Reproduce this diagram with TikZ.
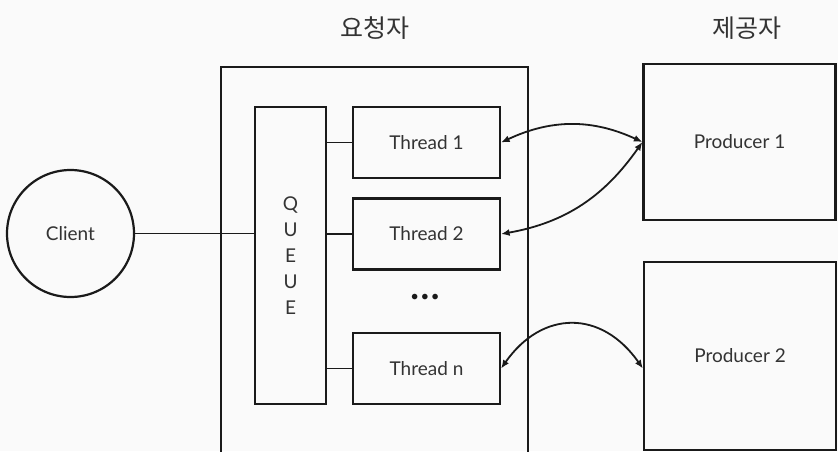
\documentclass[tikz,border=0pt]{standalone}
\usepackage{fontspec}
\setmainfont{Lato}
\newfontfamily\krfont{Noto Sans CJK KR}
\usepackage{tikz}
\usetikzlibrary{positioning,arrows.meta,calc}
\definecolor{bgcol}{HTML}{FAFAFA}
\definecolor{inkcol}{HTML}{1A1A1A}
\definecolor{txtcol}{HTML}{333333}
\tikzset{
  linkarrow/.style={{Latex[length=8.5pt,width=7pt]}-{Latex[length=8.5pt,width=7pt]}, line width=1.8pt, draw=inkcol},
  plainlink/.style={line width=1.8pt, draw=inkcol},
  clientnode/.style={draw=inkcol, circle, line width=2.2pt, minimum size=127pt, inner sep=0pt},
  framebox/.style={draw=inkcol, line width=2.2pt, minimum width=307pt, minimum height=413pt, inner sep=0pt},
  queuebox/.style={draw=inkcol, line width=2.2pt, minimum width=71pt, minimum height=297pt, align=center},
  threadbox/.style={draw=inkcol, line width=2.2pt, minimum width=147pt, minimum height=71pt, inner sep=0pt},
  producerbox/.style={draw=inkcol, line width=2.2pt, minimum width=192pt, inner sep=0pt},
  heading/.style={font=\krfont\fontsize{25}{30}\selectfont, text=txtcol}
}
\begin{document}
\begin{tikzpicture}[x=1pt, y=1pt, every node/.style={font=\fontsize{19}{22}\selectfont, text=txtcol}]
  \fill[bgcol] (0,0) rectangle (838,-451);
  \useasboundingbox (0,0) rectangle (838,-451);
  % headings
  \node[heading] (reqtitle) at (375,-28) {요청자};
  \node[heading] (provtitle) at (747,-28) {제공자};
  % requester side
  \node[framebox] (requester) at (374.5,-273.5) {};
  \node[clientnode] (client) at (70.5,-233.5) {Client};
  \node[queuebox] (queue) at (290.5,-255.5) {Q\\[4pt]U\\[4pt]E\\[4pt]U\\[4pt]E};
  \node[threadbox] (thread1) at (426.5,-142.5) {Thread 1};
  \node[threadbox] (thread2) at (426.5,-234) {Thread 2};
  \node[font=\fontsize{15}{15}\selectfont, text=inkcol] (dots) at (425,-298) {\textbullet\hspace{1.5pt}\textbullet\hspace{1.5pt}\textbullet};
  \node[threadbox] (threadn) at (426.5,-368.5) {Thread n};
  % providers
  \node[producerbox, minimum height=156pt] (prod1) at (739.5,-142) {Producer 1};
  \node[producerbox, minimum height=188pt] (prod2) at (740,-356) {Producer 2};
  % links
  \draw[plainlink] (client.east) -- (client.east -| queue.west);
  \foreach \t in {thread1,thread2,threadn}
    \draw[plainlink] (\t.west) -- (\t.west -| queue.east);
  \draw[linkarrow] (thread1.east) to[bend left=25] (prod1.west);
  \draw[linkarrow] (thread2.east) to[out=10, in=235] (prod1.west);
  \draw[linkarrow] (threadn.east) to[out=55, in=125, looseness=1.3] (threadn.east -| prod2.west);
\end{tikzpicture}
\end{document}
